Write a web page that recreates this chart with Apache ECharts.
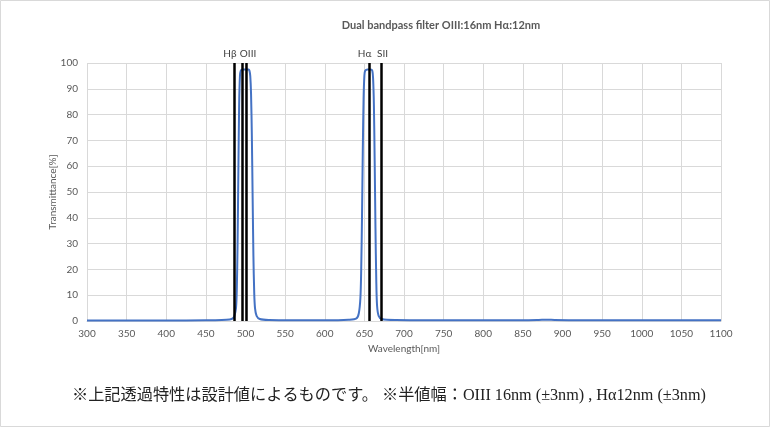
<!DOCTYPE html>
<html><head><meta charset="utf-8">
<script src="https://cdn.jsdelivr.net/npm/echarts@6/dist/echarts.min.js"></script>
<style>html,body{margin:0;padding:0;background:#fff}#c{width:770px;height:427px}</style>
</head><body><div id="c"></div>
<script>
// Wavelength [nm] and transmittance [%]
const wavelengths = [300,350,400,450,470,480,484,486,488,489,490,491,492,493,494,496,500,504,505,506,507,508,509,510,511,512,514,518,530,560,600,630,640,643,645,646,647,648,649,650,651,654,658,660,661,662,663,664,665,666,668,672,690,750,850,870,880,890,920,1000,1100];
const transmittance = [0.2,0.2,0.2,0.3,0.4,0.6,1,2,5,12,30,58,84,95,97,97.5,97.5,97.5,97,95,88,72,48,25,11,5,2,0.8,0.4,0.3,0.3,0.5,1,3,9,20,40,66,86,95,97,97.5,97.5,97,94,84,62,36,16,6,2,0.8,0.4,0.3,0.3,0.4,0.5,0.4,0.3,0.3,0.3];
const lineNames = ['Hβ','OIII','','Hα','SII'];
const lineWaves = [486.1,500.7,495.9,656.3,671.6];
const xTicks = {min:300,max:1100,interval:50};
const yTicks = {min:0,max:100,interval:10};
const titleText = 'Dual bandpass filter OIII:16nm Hα:12nm';
const footText = '※上記透過特性は設計値によるものです。 ※半値幅：OIII 16nm (±3nm) , Hα12nm (±3nm)';

const chart = echarts.init(document.getElementById('c'));
const labelCfg = [
  {align:'right', offset:[2,0]},
  {align:'center', offset:[2,0]},
  {show:false},
  {align:'right', offset:[2,0]},
  {align:'center', offset:[1,0]}
];
const mlData = lineWaves.map((w,i)=>({
  xAxis:w,
  label: Object.assign({show:true, position:'end', formatter: lineNames[i], distance:4,
    color:'#404040', fontSize:10, fontFamily:'Lato, "Open Sans", sans-serif'}, labelCfg[i])
}));
chart.setOption({
  animation:false,
  backgroundColor:'#fff',
  title:{text:titleText,left:436,top:15,textAlign:'center',
    textStyle:{fontSize:11,fontWeight:'bold',color:'#595959',fontFamily:'Lato, "Open Sans", sans-serif'}},
  grid:{left:87,right:49,top:63,bottom:106},
  xAxis:{type:'value',min:xTicks.min,max:xTicks.max,interval:xTicks.interval,
    name:'Wavelength[nm]',nameLocation:'middle',nameGap:23,
    nameTextStyle:{fontSize:10,color:'#595959',fontFamily:'Lato, "Open Sans", sans-serif'},
    axisLine:{show:true,lineStyle:{color:'#d9d9d9'}},axisTick:{show:false},
    axisLabel:{fontSize:10,color:'#595959',margin:8,formatter:v=>String(v),fontFamily:'Lato, "Open Sans", sans-serif'},
    splitLine:{show:true,lineStyle:{color:'#d9d9d9',width:1}}},
  yAxis:{type:'value',min:yTicks.min,max:yTicks.max,interval:yTicks.interval,
    name:'Transmittance[%]',nameLocation:'middle',nameGap:34,nameRotate:90,nameMoveOverlap:false,
    nameTextStyle:{fontSize:10,color:'#595959',verticalAlign:'middle',fontFamily:'Lato, "Open Sans", sans-serif'},
    axisLine:{show:false},axisTick:{show:false},
    axisLabel:{fontSize:10,color:'#595959',margin:9,formatter:v=>String(v),fontFamily:'Lato, "Open Sans", sans-serif'},
    splitLine:{show:true,lineStyle:{color:'#d9d9d9',width:1}}},
  series:[{type:'line',data:wavelengths.map((w,i)=>[w,transmittance[i]]),
    showSymbol:false,smooth:0.3,lineStyle:{color:'#4472C4',width:2},
    markLine:{silent:true,symbol:['none','none'],
      lineStyle:{color:'#000',width:2.5,type:'solid'},
      data:mlData}}],
  graphic:[
    {type:'rect',shape:{x:0.5,y:0.5,width:769,height:426},style:{fill:null,stroke:'#d9d9d9',lineWidth:1},silent:true},
    {type:'text',left:72,top:388,style:{text:footText,fontSize:16.2,fill:'#222',
      fontFamily:'"Liberation Serif", "Noto Sans CJK JP", serif'}}
  ]
});
</script></body></html>
